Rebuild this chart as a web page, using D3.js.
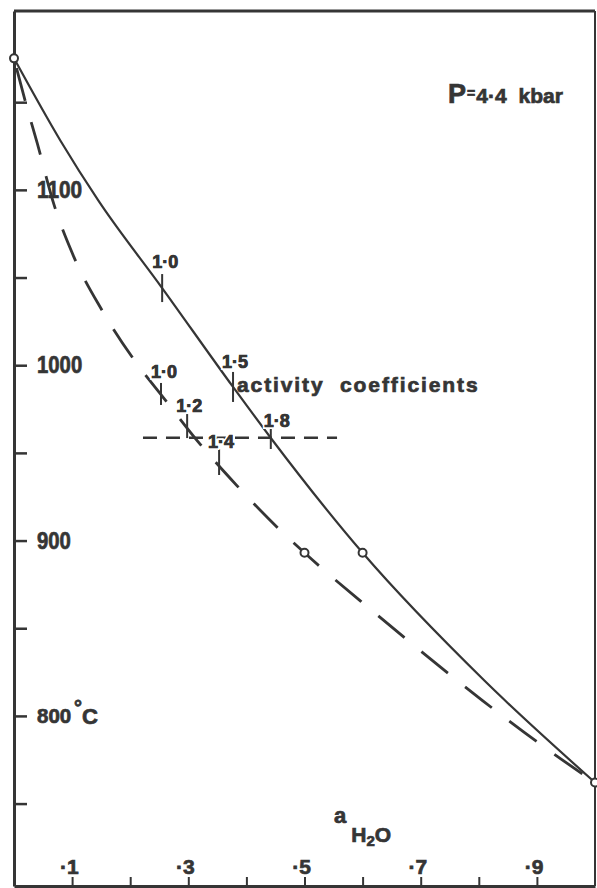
<!DOCTYPE html>
<html>
<head>
<meta charset="utf-8">
<script src="https://cdn.jsdelivr.net/npm/d3@7"></script>
<style>
  html, body { margin: 0; padding: 0; background: #fff; }
  svg { display: block; }
  text { font-family: "Liberation Sans", Arial, sans-serif; font-weight: bold; fill: #353535; }
</style>
</head>
<body>
<script>
// ---------------- data ----------------
// solid curve: [aH2O, T °C]
const solidCurve = [
  [0.000, 1175], [0.080, 1128], [0.145, 1094], [0.255, 1044],
  [0.377, 987.6], [0.442, 958.5], [0.600, 893], [0.810, 820], [1.000, 762]
];
// dashed curve: [aH2O, T °C]
const dashedCurve = [
  [0.000, 1175], [0.019, 1151], [0.040, 1126.6], [0.069, 1091.4],
  [0.103, 1061.8], [0.151, 1031.6], [0.213, 1000.2], [0.256, 982],
  [0.317, 956.3], [0.384, 931.2], [0.463, 904.4], [0.500, 893],
  [0.623, 858.2], [0.807, 808.6], [0.917, 781.2], [1.000, 762]
];
// open circles on the curves
const circlePoints = [[0.0, 1175], [0.5, 893], [0.6, 893], [1.0, 762]];
// activity-coefficient marks
const solidMarks_a = [0.255, 0.377, 0.442];
const solidMarks_T = [1044, 987.6, 958.5];
const solidMarks_label = ["1·0", "1·5", "1·8"];
const dashedMarks_a = [0.253, 0.298, 0.353];
const dashedMarks_T = [983.6, 965.3, 944.8];
const dashedMarks_label = ["1·0", "1·2", "1·4"];
// horizontal isotherm (dashed)
const isotherm_T = 958.7;
const isotherm_a = [0.222, 0.556];
// axes
const xDomain = [0, 1];
const yDomain = [703, 1202];
const xTickValues = [0.1, 0.2, 0.3, 0.4, 0.5, 0.6, 0.7, 0.8, 0.9];
const xTickLabels = ["·1", "", "·3", "", "·5", "", "·7", "", "·9"];
const yTickValues = [750, 800, 850, 900, 950, 1000, 1050, 1100, 1150];
const yTickLabels = ["", "800", "", "900", "", "1000", "", "1100", ""];
const yUnit = ["°", "C"];
const pressureLabel = ["P", "=", "4·4", "kbar"];
const xTitle = ["a", "H", "2", "O"];
const annotation = "activity  coefficients";

// ---------------- layout ----------------
const W = 597, H = 888;
const ink = "#353535";
const x = d3.scaleLinear().domain(xDomain).range([14, 595]);
const y = d3.scaleLinear().domain(yDomain).range([886, 11]);

const svg = d3.select("body").append("svg").attr("width", W).attr("height", H);
const heavy = sel => sel.attr("stroke", ink).attr("stroke-width", 0.7).attr("paint-order", "stroke");

// frame top & right
svg.append("line").attr("x1", x(0)).attr("x2", x(1)).attr("y1", y(yDomain[1])).attr("y2", y(yDomain[1]))
  .attr("stroke", ink).attr("stroke-width", 3);
svg.append("line").attr("x1", x(1)).attr("x2", x(1)).attr("y1", y(yDomain[1])).attr("y2", y(yDomain[0]))
  .attr("stroke", ink).attr("stroke-width", 2);

// y axis (ticks inward, labels inside)
const yAxis = d3.axisRight(y).tickValues(yTickValues).tickSize(13).tickSizeOuter(0).tickPadding(10)
  .tickFormat((d, i) => yTickLabels[i]);
const gy = svg.append("g").attr("transform", `translate(${x(0)},0)`).call(yAxis);
gy.select(".domain").attr("stroke", ink).attr("stroke-width", 3);
gy.selectAll(".tick line").attr("stroke", ink).attr("stroke-width", 2.5);
gy.selectAll(".tick text").attr("fill", ink).attr("font-size", 24)
  .attr("font-family", "'Liberation Sans', Arial, sans-serif").attr("font-weight", "bold")
  .call(heavy)
  .each(function (d, i) {
    const lab = yTickLabels[i];
    if (!lab) return;
    if (d === 800) d3.select(this).attr("font-size", 20.5);
    else d3.select(this).attr("textLength", lab.length * 11.3).attr("lengthAdjust", "spacingAndGlyphs");
  });
gy.selectAll(".tick").filter(d => d === 800).each(function () {
  const u = d3.select(this).append("text").attr("x", 60).attr("y", -2).call(heavy);
  u.append("tspan").attr("font-size", 20).text(yUnit[0]);
  u.append("tspan").attr("font-size", 22).attr("dx", 0).attr("dy", 10).text(yUnit[1]);
});

// x axis (ticks inward, labels inside)
const xAxis = d3.axisTop(x).tickValues(xTickValues).tickSize(9).tickSizeOuter(0).tickPadding(3)
  .tickFormat((d, i) => xTickLabels[i]);
const gx = svg.append("g").attr("transform", `translate(0,${y(yDomain[0])})`).call(xAxis);
gx.select(".domain").attr("stroke", ink).attr("stroke-width", 3);
gx.selectAll(".tick line").attr("stroke", ink).attr("stroke-width", 2);
gx.selectAll(".tick text").attr("fill", ink).attr("font-size", 21)
  .attr("font-family", "'Liberation Sans', Arial, sans-serif").attr("font-weight", "bold")
  .attr("text-anchor", "end").attr("dx", 6).call(heavy);

// curves
const line = d3.line().x(d => x(d[0])).y(d => y(d[1])).curve(d3.curveMonotoneX);
svg.append("path").datum(solidCurve).attr("d", line)
  .attr("fill", "none").attr("stroke", ink).attr("stroke-width", 2.2);
svg.append("path").datum(dashedCurve).attr("d", line)
  .attr("fill", "none").attr("stroke", ink).attr("stroke-width", 2.8)
  .attr("stroke-dasharray", "34,22").attr("stroke-dashoffset", -10);

// isotherm
svg.append("line").attr("x1", x(isotherm_a[0])).attr("x2", x(isotherm_a[1]))
  .attr("y1", y(isotherm_T)).attr("y2", y(isotherm_T))
  .attr("stroke", ink).attr("stroke-width", 2.5).attr("stroke-dasharray", "14,9");

// marks
const solidOffsets = [[3, -20], [2, -19], [6, -11]];
const dashedOffsets = [[3, -16], [2, -14], [2, -14]];
const solidHalf = [14, 15, 11];
const dashedHalf = [11, 12, 13];
function drawMarks(aArr, tArr, labels, offs, halves) {
  aArr.forEach((a, i) => {
    const px = x(a), py = y(tArr[i]);
    svg.append("line").attr("x1", px).attr("x2", px).attr("y1", py - halves[i]).attr("y2", py + halves[i])
      .attr("stroke", ink).attr("stroke-width", 2);
    svg.append("text").attr("x", px + offs[i][0]).attr("y", py + offs[i][1])
      .attr("text-anchor", "middle").attr("font-size", 18)
      .attr("stroke", "#fff").attr("stroke-width", 4).attr("paint-order", "stroke")
      .text(labels[i])
      .append("tspan").attr("x", px + offs[i][0]).attr("stroke", ink).attr("stroke-width", 0.7)
      .text(labels[i]);
  });
}
drawMarks(solidMarks_a, solidMarks_T, solidMarks_label, solidOffsets, solidHalf);
drawMarks(dashedMarks_a, dashedMarks_T, dashedMarks_label, dashedOffsets, dashedHalf);

// circles
svg.selectAll("circle.pt").data(circlePoints).join("circle").attr("class", "pt")
  .attr("cx", d => x(d[0])).attr("cy", d => y(d[1])).attr("r", 4)
  .attr("fill", "#fff").attr("stroke", ink).attr("stroke-width", 2);

// annotation
svg.append("text").attr("x", 237).attr("y", 392).attr("font-size", 21)
  .attr("letter-spacing", 1.9).attr("xml:space", "preserve").style("white-space", "pre")
  .text(annotation).call(heavy);

// pressure label
const pl = svg.append("text").attr("x", 448).attr("y", 103).call(heavy);
pl.append("tspan").text(pressureLabel[0]).attr("font-size", 27);
pl.append("tspan").text(pressureLabel[1]).attr("font-size", 14).attr("dy", -5).attr("dx", 1);
pl.append("tspan").text(pressureLabel[2]).attr("font-size", 21).attr("dy", 5).attr("dx", 1);
pl.append("tspan").text(pressureLabel[3]).attr("font-size", 21).attr("dx", 12);

// x axis title a_H2O
const xt = svg.append("text").attr("x", 334).attr("y", 823).call(heavy);
xt.append("tspan").text(xTitle[0]).attr("font-size", 22);
xt.append("tspan").text(xTitle[1]).attr("font-size", 21).attr("dy", 19).attr("dx", 5);
xt.append("tspan").text(xTitle[2]).attr("font-size", 15).attr("dy", 4);
xt.append("tspan").text(xTitle[3]).attr("font-size", 21).attr("dy", -4);
</script>
</body>
</html>
